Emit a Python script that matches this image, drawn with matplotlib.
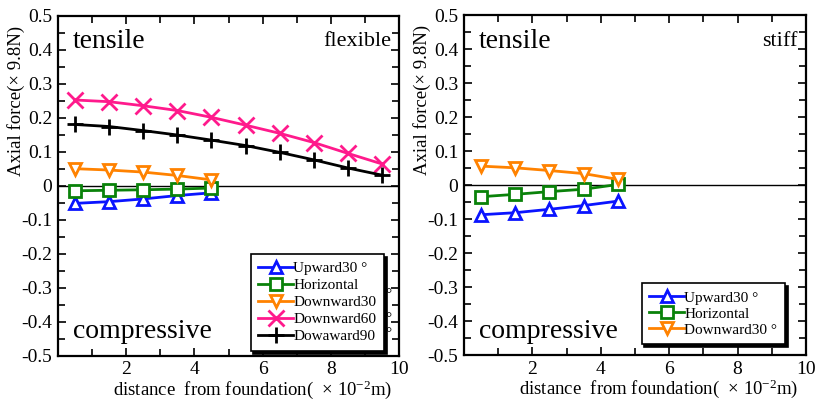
# -*- coding: utf-8 -*-

import numpy as np
import matplotlib
matplotlib.use("Agg")
import matplotlib.pyplot as plt
from matplotlib.ticker import MultipleLocator, FixedLocator

plt.rcParams['font.family'] = ['Liberation Serif', 'DejaVu Serif']
plt.rcParams['mathtext.fontset'] = 'custom'
plt.rcParams['mathtext.rm'] = 'Liberation Serif'
plt.rcParams['mathtext.default'] = 'regular'

# distance from foundation (x 10^-2 m)
dist_short = [0.5, 1.5, 2.5, 3.5, 4.5]
dist_long = [0.5, 1.5, 2.5, 3.5, 4.5, 5.5, 6.5, 7.5, 8.5, 9.5]

# flexible
flex_up30 = [-0.052, -0.047, -0.039, -0.029, -0.021]
flex_horiz = [-0.015, -0.0135, -0.012, -0.010, -0.007]
flex_down30 = [0.050, 0.046, 0.040, 0.030, 0.017]
flex_down60 = [0.252, 0.247, 0.235, 0.221, 0.201, 0.178, 0.154, 0.127, 0.095, 0.064]
flex_down90 = [0.180, 0.174, 0.162, 0.149, 0.134, 0.118, 0.098, 0.076, 0.052, 0.031]

# stiff
stiff_up30 = [-0.087, -0.081, -0.071, -0.060, -0.047]
stiff_horiz = [-0.034, -0.027, -0.019, -0.012, 0.002]
stiff_down30 = [0.056, 0.051, 0.043, 0.034, 0.017]

BLUE = '#0a14ff'
GREEN = '#0a820a'
ORANGE = '#ff8200'
PINK = '#ff1a8c'
BLACK = '#000000'


def style_axes(ax, label):
    ax.set_xlim(0, 10)
    ax.set_ylim(-0.5, 0.5)
    ax.xaxis.set_major_locator(FixedLocator([2, 4, 6, 8, 10]))
    ax.xaxis.set_minor_locator(FixedLocator([1, 3, 5, 7, 9]))
    ax.yaxis.set_minor_locator(MultipleLocator(0.05))
    ax.set_yticks(np.round(np.arange(-0.5, 0.51, 0.1), 1))
    ax.set_yticklabels(['-0.5', '-0.4', '-0.3', '-0.2', '-0.1', '0',
                        '0.1', '0.2', '0.3', '0.4', '0.5'])
    ax.tick_params(which='both', direction='in', top=True, right=True,
                   labelsize=14, width=1.2, pad=4)
    ax.tick_params(which='major', length=6)
    ax.tick_params(which='minor', length=5)
    for s in ax.spines.values():
        s.set_linewidth(1.6)
    ax.axhline(0, color='k', lw=1.0, zorder=1)
    ax.set_xlabel(u'distance  from foundation(  × 10$^{-2}$m)', fontsize=13.5,
                  va='center')
    ax.xaxis.set_label_coords(0.57, -0.1)
    ax.set_ylabel(u'Axial force(× 9.8N)', fontsize=13.5)
    ax.yaxis.set_label_coords(-0.097, 0.75)
    ax.text(0.044, 0.923, 'tensile', transform=ax.transAxes, fontsize=20,
            ha='left', va='center')
    ax.text(0.044, 0.071, 'compressive', transform=ax.transAxes, fontsize=20,
            ha='left', va='center')
    ax.text(0.977, 0.923, label, transform=ax.transAxes, fontsize=16,
            ha='right', va='center')


def series(ax, x, y, color, marker, label, ms=9):
    ax.plot(x, y, color=color, marker=marker, markersize=ms, markeredgewidth=2,
            markerfacecolor='white' if marker in ('^', 's', 'v') else color,
            lw=2, label=label, clip_on=False, zorder=3)


def legend(ax, anchor, spacing):
    leg = ax.legend(loc='lower right', bbox_to_anchor=anchor, fontsize=11,
                    frameon=True, fancybox=False, shadow={'color': 'k', 'alpha': 1},
                    handlelength=2.3, handletextpad=0.0, labelspacing=spacing,
                    borderpad=0.5, borderaxespad=0)
    leg.get_frame().set_edgecolor('k')
    leg.get_frame().set_linewidth(1.2)
    return leg


fig = plt.figure(figsize=(8.18, 4.03), dpi=100)
ax1 = fig.add_axes([0.0709, 0.1174, 0.4169, 0.8437])
ax2 = fig.add_axes([0.5672, 0.1187, 0.4181, 0.8437])

series(ax1, dist_short, flex_up30, BLUE, '^', u'Upward30 °')
series(ax1, dist_short, flex_horiz, GREEN, 's', 'Horizontal')
series(ax1, dist_short, flex_down30, ORANGE, 'v', 'Downward30')
series(ax1, dist_long, flex_down60, PINK, 'x', 'Downward60', ms=11)
series(ax1, dist_long, flex_down90, BLACK, '+', 'Dowaward90', ms=12)
style_axes(ax1, 'flexible')
legend(ax1, (0.956, 0.014), 0.22)
for yy in (0.18, 0.11, 0.066):
    ax1.text(0.968, yy, u'°', transform=ax1.transAxes, fontsize=11,
             ha='center', va='center', zorder=10)

series(ax2, dist_short, stiff_up30, BLUE, '^', u'Upward30 °')
series(ax2, dist_short, stiff_horiz, GREEN, 's', 'Horizontal')
series(ax2, dist_short, stiff_down30, ORANGE, 'v', u'Downward30 °')
style_axes(ax2, 'stiff')
legend(ax2, (0.939, 0.032), 0.15)

fig.savefig('out.png', dpi=100)
